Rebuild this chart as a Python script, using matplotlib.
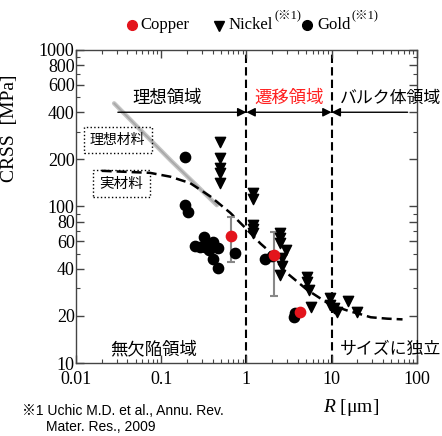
import matplotlib
matplotlib.use("Agg")
import matplotlib.pyplot as plt
from matplotlib.lines import Line2D
from matplotlib.ticker import FixedLocator, NullFormatter, LogLocator

plt.rcParams["mathtext.fontset"] = "custom"
plt.rcParams["mathtext.rm"] = "Liberation Serif"
plt.rcParams["mathtext.it"] = "Liberation Serif:italic"

SERIF = ["Liberation Serif", "Noto Sans CJK JP"]
JP = ["Noto Sans CJK JP", "DejaVu Sans"]
SANS = ["Liberation Sans", "Noto Sans CJK JP"]

# --- data (R in um, CRSS in MPa) ---
gold_R = [0.191, 0.191, 0.204, 0.25, 0.287, 0.314, 0.33, 0.345, 0.36, 0.41,
          0.47, 0.405, 0.47, 0.743, 1.67, 2.0, 3.6, 3.75]
gold_tau = [206, 102, 92.7, 56, 55.3, 63.6, 55, 58.2, 52.7, 59.6,
            54.1, 46.1, 40.6, 50.7, 46.1, 48, 19.8, 20.8]

nickel_R = [0.494, 0.494, 0.494, 0.494, 0.494,
            1.2, 1.2, 1.2, 1.2, 1.2,
            2.47, 2.47, 2.47, 2.88, 2.63, 2.63, 2.51,
            5.18, 5.18, 5.41, 5.66,
            9.7, 9.7, 10.6, 11.7, 15.6, 20]
nickel_tau = [259, 203, 175, 163, 142,
              122, 111, 76, 71.5, 67.4,
              67.4, 62.7, 58.2, 52.7, 46.7, 41.7, 36.5,
              35.6, 33, 29.3, 22.9,
              25.9, 23.5, 22.4, 21.3, 25, 21.3]

copper_R = [0.667, 2.09, 4.31]
copper_tau = [65, 49, 21.3]
copper_lo = [44.4, 26.8]   # error bar ends for first two points
copper_hi = [85.3, 69]

# real material model curve (dashed)
model_R = [0.02, 0.074, 0.128, 0.219, 0.377, 0.648, 0.97, 1.46, 1.91, 2.75,
           5.18, 9.7, 16.7, 20, 28.8, 45, 68]
model_tau = [169, 164, 155, 141, 116, 91, 73, 58, 51, 39,
             29.3, 23.5, 21.3, 20.8, 19.6, 19.2, 19.0]

# ideal material line (gray)
ideal_R = [0.028, 0.128, 0.45]
ideal_tau = [456, 198, 102]

region_bounds = [1, 10]

fig = plt.figure(figsize=(4.42, 4.36), dpi=100)
ax = fig.add_axes([0.172, 0.1674, 0.771, 0.718])
ax.set_xscale("log")
ax.set_yscale("log")
ax.set_xlim(0.01, 100)
ax.set_ylim(10, 1000)

ax.plot(ideal_R, ideal_tau, color="#c4c4c4", lw=3.2, solid_capstyle="round", zorder=2)
ax.plot(ideal_R, ideal_tau, color="#a8a8a8", lw=1.2, solid_capstyle="round", zorder=2)
ax.plot(model_R, model_tau, color="black", lw=1.8, dashes=(4, 2), zorder=3)

for xb in region_bounds:
    ax.axvline(xb, color="black", lw=1.5, dashes=(4, 2), zorder=1)

yerr = [[t - lo for t, lo in zip(copper_tau[:2], copper_lo)],
        [hi - t for t, hi in zip(copper_tau[:2], copper_hi)]]
ax.errorbar(copper_R[:2], copper_tau[:2], yerr=yerr, fmt="none", ecolor="#888888",
            elinewidth=1.5, capsize=3, capthick=1.5, zorder=4)

ax.scatter(gold_R, gold_tau, s=55, color="black", marker="o", zorder=5)
ax.scatter(nickel_R, nickel_tau, s=55, color="black", marker="v", zorder=5)
ax.scatter(copper_R, copper_tau, s=55, color="#e3141c", marker="o", zorder=6)

# region arrows
arr_y = 400
ax.annotate("", xy=(1, arr_y), xytext=(0.031, arr_y),
            arrowprops=dict(arrowstyle="-|>", color="black", lw=1, mutation_scale=13, shrinkA=0, shrinkB=0))
ax.annotate("", xy=(10, arr_y), xytext=(1, arr_y),
            arrowprops=dict(arrowstyle="<|-|>", color="black", lw=1, mutation_scale=13, shrinkA=0, shrinkB=0))
ax.annotate("", xy=(10, arr_y), xytext=(78, arr_y),
            arrowprops=dict(arrowstyle="-|>", color="black", lw=1, mutation_scale=13, shrinkA=0, shrinkB=0))

ax.text(0.267, 0.847, "理想領域", transform=ax.transAxes, ha="center", va="center",
        fontsize=12.5, family=JP)
ax.text(0.625, 0.847, "遷移領域", transform=ax.transAxes, ha="center", va="center",
        fontsize=12.5, family=JP, color="#ff2020")
ax.text(0.774, 0.847, "バルク体領域", transform=ax.transAxes, ha="left", va="center",
        fontsize=12.2, family=JP, clip_on=False)
ax.text(0.229, 0.045, "無欠陥領域", transform=ax.transAxes, ha="center", va="center",
        fontsize=12.5, family=JP)
ax.text(0.774, 0.045, "サイズに独立", transform=ax.transAxes, ha="left", va="center",
        fontsize=12.2, family=JP, clip_on=False)

box = dict(boxstyle="square,pad=0.45", facecolor="none", edgecolor="black", lw=1, linestyle=":")
ax.text(0.122, 0.712, "理想材料", transform=ax.transAxes, ha="center", va="center",
        fontsize=10, family=JP, bbox=box)
ax.text(0.133, 0.573, "実材料", transform=ax.transAxes, ha="center", va="center",
        fontsize=10.5, family=JP, bbox=box)

# ticks
ytick_major = [10, 20, 40, 60, 80, 100, 200, 400, 600, 800, 1000]
ytick_minor = [30, 50, 70, 90, 300, 500, 700, 900]
ax.yaxis.set_major_locator(FixedLocator(ytick_major))
ax.yaxis.set_minor_locator(FixedLocator(ytick_minor))
ax.set_yticklabels([str(v) for v in ytick_major])
ax.yaxis.set_minor_formatter(NullFormatter())
ax.xaxis.set_major_locator(FixedLocator([0.01, 0.1, 1, 10, 100]))
ax.xaxis.set_minor_locator(LogLocator(base=10, subs=range(2, 10)))
ax.xaxis.set_minor_formatter(NullFormatter())
ax.set_xticklabels(["0.01", "0.1", "1", "10", "100"])
ax.tick_params(which="both", direction="in", top=True, right=True, colors="#444444",
               labelcolor="black", labelsize=13)
ax.tick_params(which="major", length=6, width=1)
ax.tick_params(which="minor", length=3, width=0.8)
for lab in ax.get_xticklabels() + ax.get_yticklabels():
    lab.set_family(SERIF)
ax.tick_params(axis="y", pad=1)
ax.tick_params(axis="x", pad=6)
for sp in ax.spines.values():
    sp.set_color("#444444")
    sp.set_linewidth(1)

ax.set_ylabel("CRSS  [MPa]", fontsize=14, family=SERIF)
ax.yaxis.set_label_coords(-0.17, 0.75)
ax.set_xlabel(r"$\it{R}$ [μm]", fontsize=14, family=SERIF)
ax.xaxis.set_label_coords(0.806, -0.109)

# legend (drawn by hand to get the superscripts)
fig.add_artist(Line2D([0.2986], [0.9427], marker="o", color="#e3141c", ms=7, ls="none"))
fig.text(0.3167, 0.9427, "Copper", fontsize=12, family=SERIF, va="center")
fig.add_artist(Line2D([0.4955], [0.9404], marker="v", color="black", ms=7, ls="none"))
fig.text(0.518, 0.9427, "Nickel", fontsize=12, family=SERIF, va="center")
fig.text(0.622, 0.9656, "(※1)", fontsize=9, family=SERIF, va="center")
fig.add_artist(Line2D([0.6946], [0.9427], marker="o", color="black", ms=7, ls="none"))
fig.text(0.717, 0.9427, "Gold", fontsize=12, family=SERIF, va="center")
fig.text(0.796, 0.9656, "(※1)", fontsize=9, family=SERIF, va="center")

fig.text(0.05, 0.057, "※1 Uchic M.D. et al., Annu. Rev.", fontsize=10, family=SANS, va="center")
fig.text(0.104, 0.020, "Mater. Res., 2009", fontsize=10, family=SANS, va="center")

fig.savefig("out.png", dpi=100)
